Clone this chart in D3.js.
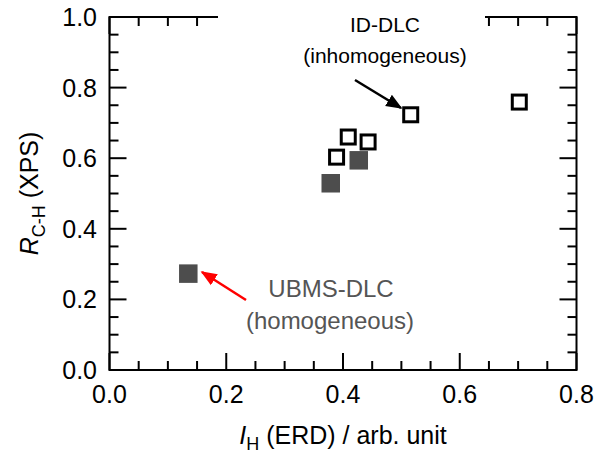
<!DOCTYPE html>
<meta charset="utf-8">
<style>
body { margin: 0; background: #fff; }
text { font-family: "Liberation Sans", Arial, sans-serif; fill: #000; }
.frame { fill: none; stroke: #000; stroke-width: 2px; }
.tick { stroke: #000; stroke-width: 2px; }
</style>
<body>
<svg id="chart" width="606" height="454"></svg>
<script src="https://d3js.org/d3.v7.min.js"></script>
<script>

// UBMS-DLC (homogeneous), filled squares
var ubmsX = [0.135, 0.379, 0.427],
    ubmsY = [0.273, 0.529, 0.594];

// ID-DLC (inhomogeneous), open squares
var idX = [0.389, 0.409, 0.443, 0.516, 0.702],
    idY = [0.603, 0.660, 0.646, 0.723, 0.759];

var xTicks = [0.0, 0.2, 0.4, 0.6, 0.8],
    yTicks = [0.0, 0.2, 0.4, 0.6, 0.8, 1.0];

var pLeft = 109.5, pRight = 576.5, pTop = 17, pBottom = 370;

var x = d3.scaleLinear().domain([0, 0.8]).range([pLeft, pRight]);
var y = d3.scaleLinear().domain([0, 1.0]).range([pBottom, pTop]);

var svg = d3.select("#chart");

var defs = svg.append("defs");
[["headBlack", "#000"], ["headRed", "#f00"]].forEach(function(m) {
  defs.append("marker")
      .attr("id", m[0])
      .attr("viewBox", "0 0 10 10")
      .attr("refX", 9).attr("refY", 5)
      .attr("markerWidth", 6.5).attr("markerHeight", 6.5)
      .attr("markerUnits", "strokeWidth")
      .attr("orient", "auto")
    .append("path").attr("d", "M0,1L10,5L0,9Z").attr("fill", m[1]);
});

// frame
svg.append("rect").attr("class", "frame")
    .attr("x", pLeft).attr("y", pTop)
    .attr("width", pRight - pLeft).attr("height", pBottom - pTop);

// minor + major ticks, all four sides
var xAll = d3.range(0, 0.8001, 0.05), yAll = d3.range(0, 1.0001, 0.05);
xAll.forEach(function(v, i) {
  var len = i % 4 == 0 ? 17 : 9;
  svg.append("line").attr("class", "tick")
      .attr("x1", x(v)).attr("x2", x(v)).attr("y1", pBottom).attr("y2", pBottom - len);
  svg.append("line").attr("class", "tick")
      .attr("x1", x(v)).attr("x2", x(v)).attr("y1", pTop).attr("y2", pTop + len);
});
yAll.forEach(function(v, i) {
  var len = i % 4 == 0 ? 17 : 9;
  svg.append("line").attr("class", "tick")
      .attr("x1", pLeft).attr("x2", pLeft + len).attr("y1", y(v)).attr("y2", y(v));
  svg.append("line").attr("class", "tick")
      .attr("x1", pRight).attr("x2", pRight - len).attr("y1", y(v)).attr("y2", y(v));
});

// tick labels
svg.selectAll(".xlab").data(xTicks).enter().append("text")
    .attr("x", function(d) { return x(d); })
    .attr("y", 403)
    .attr("text-anchor", "middle")
    .style("font-size", "25px")
    .text(function(d) { return d.toFixed(1); });
svg.selectAll(".ylab").data(yTicks).enter().append("text")
    .attr("x", 97)
    .attr("y", function(d) { return y(d) + 9; })
    .attr("text-anchor", "end")
    .style("font-size", "25px")
    .text(function(d) { return d.toFixed(1); });

// axis titles
var xt = svg.append("text").attr("x", 343).attr("y", 444)
    .attr("text-anchor", "middle").style("font-size", "25px");
xt.append("tspan").style("font-style", "italic").text("I");
xt.append("tspan").attr("dy", 6).style("font-size", "18px").text("H");
xt.append("tspan").attr("dy", -6).text(" (ERD) / arb. unit");

var yt = svg.append("text")
    .attr("transform", "translate(38," + ((pTop + pBottom) / 2) + ") rotate(-90)")
    .attr("text-anchor", "middle").style("font-size", "25px");
yt.append("tspan").style("font-style", "italic").text("R");
yt.append("tspan").attr("dy", 7).style("font-size", "18px").text("C-H");
yt.append("tspan").attr("dy", -7).text(" (XPS)");

// label box masking the top frame
svg.append("rect").attr("x", 218).attr("y", 0).attr("width", 267).attr("height", 72).attr("fill", "#fff");
svg.append("text").attr("x", 385).attr("y", 32).attr("text-anchor", "middle")
    .style("font-size", "21px").text("ID-DLC");
svg.append("text").attr("x", 385).attr("y", 63).attr("text-anchor", "middle")
    .style("font-size", "21px").text("(inhomogeneous)");

svg.append("text").attr("x", 331).attr("y", 297).attr("text-anchor", "middle")
    .style("font-size", "24px").style("fill", "#555").text("UBMS-DLC");
svg.append("text").attr("x", 330).attr("y", 329).attr("text-anchor", "middle")
    .style("font-size", "24px").style("fill", "#555").text("(homogeneous)");

// arrows
svg.append("line").attr("x1", 355).attr("y1", 80).attr("x2", 401).attr("y2", 108)
    .attr("stroke", "#000").attr("stroke-width", 2.5).attr("marker-end", "url(#headBlack)");
svg.append("line").attr("x1", 246).attr("y1", 300).attr("x2", 202).attr("y2", 272)
    .attr("stroke", "#f00").attr("stroke-width", 2.5).attr("marker-end", "url(#headRed)");

// points
var s1 = 18.5;
svg.selectAll(".ubms").data(ubmsX).enter().append("rect")
    .attr("x", function(d) { return x(d) - s1 / 2; })
    .attr("y", function(d, i) { return y(ubmsY[i]) - s1 / 2; })
    .attr("width", s1).attr("height", s1)
    .attr("fill", "#4d4d4d");

var s2 = 14;
svg.selectAll(".id").data(idX).enter().append("rect")
    .attr("x", function(d) { return x(d) - s2 / 2; })
    .attr("y", function(d, i) { return y(idY[i]) - s2 / 2; })
    .attr("width", s2).attr("height", s2)
    .attr("fill", "#fff").attr("stroke", "#000").attr("stroke-width", 3);

</script>
</body>
</html>
